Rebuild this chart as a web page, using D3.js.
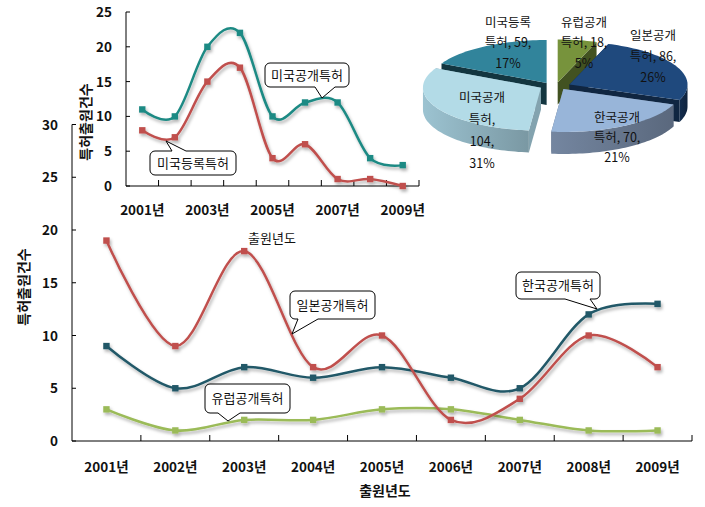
<!DOCTYPE html>
<html>
<head>
<meta charset="utf-8">
<script src="https://cdn.jsdelivr.net/npm/d3@7"></script>
<style>
  body { margin: 0; background: #fff; }
  text { font-family: "Noto Sans CJK KR", "Noto Sans", sans-serif; fill: #111; }
  .tick-label { font-size: 13.5px; font-weight: bold; }
  .axis-title { font-size: 14px; font-weight: bold; }
  .callout text { font-size: 13px; }
  .pie-label { font-size: 12.5px; }
</style>
</head>
<body>
<svg id="chart" width="705" height="507"></svg>
<script>
// ---- data ----
const years = ["2001년", "2002년", "2003년", "2004년", "2005년", "2006년", "2007년", "2008년", "2009년"];
const jpOpen = [19, 9, 18, 7, 10, 2, 4, 10, 7];     // 일본공개특허
const krOpen = [9, 5, 7, 6, 7, 6, 5, 12, 13];       // 한국공개특허
const euOpen = [3, 1, 2, 2, 3, 3, 2, 1, 1];         // 유럽공개특허
const usOpen = [11, 10, 20, 22, 10, 12, 12, 4, 3];  // 미국공개특허
const usGrant = [8, 7, 15, 17, 4, 6, 1, 1, 0];      // 미국등록특허
const mainTicks = [0, 5, 10, 15, 20, 25, 30];
const insetTicks = [0, 5, 10, 15, 20, 25];
const insetYearLabels = ["2001년", "2003년", "2005년", "2007년", "2009년"];
const pieNames = ["유럽공개특허", "일본공개특허", "한국공개특허", "미국공개특허", "미국등록특허"];
const pieValues = [18, 86, 70, 104, 59];
const piePercents = ["5%", "26%", "21%", "31%", "17%"];

const svg = d3.select("#chart");

const defs = svg.append("defs");
defs.append("filter").attr("id", "shadow")
    .attr("x", "-20%").attr("y", "-20%").attr("width", "140%").attr("height", "140%")
  .append("feDropShadow")
    .attr("dx", 1.5).attr("dy", 2.5).attr("stdDeviation", 1.5)
    .attr("flood-color", "#000").attr("flood-opacity", 0.3);

const smooth = d3.curveCatmullRom.alpha(0);

function drawSeries(g, x, y, values, colour) {
    const line = d3.line()
        .x((d, i) => x(years[i]) + x.bandwidth() / 2)
        .y(d => y(d))
        .curve(smooth);
    const s = g.append("g").attr("filter", "url(#shadow)");
    s.append("path")
        .attr("d", line(values))
        .attr("fill", "none")
        .attr("stroke", colour)
        .attr("stroke-width", 2.5);
    s.selectAll("rect")
        .data(values)
        .join("rect")
        .attr("x", (d, i) => x(years[i]) + x.bandwidth() / 2 - 3.2)
        .attr("y", d => y(d) - 3.2)
        .attr("width", 6.4)
        .attr("height", 6.4)
        .attr("fill", colour);
}

function drawAxes(g, x, y, ticks, labelYears, labelPad, labelY) {
    const [x0, x1] = x.range();
    const [yb, yt] = y.range();
    // y axis, ticks inside
    g.append("line").attr("x1", x0).attr("x2", x0).attr("y1", yt).attr("y2", yb)
        .attr("stroke", "#000");
    g.selectAll(".ytick").data(ticks).join("line")
        .attr("x1", x0).attr("x2", x0 + 4)
        .attr("y1", d => y(d)).attr("y2", d => y(d))
        .attr("stroke", "#000");
    g.selectAll(".ylab").data(ticks).join("text")
        .attr("class", "tick-label")
        .attr("x", x0 - labelPad).attr("y", d => y(d) + 5)
        .attr("text-anchor", "end")
        .text(d => d);
    // x axis, ticks between categories
    g.append("line").attr("x1", x0).attr("x2", x1).attr("y1", yb).attr("y2", yb)
        .attr("stroke", "#000");
    const bounds = years.slice(1).map(d => x(d)).concat([x1]);
    g.selectAll(".xtick").data(bounds).join("line")
        .attr("x1", d => d).attr("x2", d => d)
        .attr("y1", yb).attr("y2", yb - 6)
        .attr("stroke", "#000");
    g.selectAll(".xlab").data(labelYears).join("text")
        .attr("class", "tick-label")
        .attr("x", d => x(d) + x.bandwidth() / 2).attr("y", labelY)
        .attr("text-anchor", "middle")
        .text(d => d);
}

// ---- main chart ----
const main = svg.append("g");
const xMain = d3.scaleBand().domain(years).range([72, 692]);
const yMain = d3.scaleLinear().domain([0, 30]).range([441, 124.5]);
drawAxes(main, xMain, yMain, mainTicks, years, 14, 472);
drawSeries(main, xMain, yMain, euOpen, "#9bbb59");
drawSeries(main, xMain, yMain, krOpen, "#215968");
drawSeries(main, xMain, yMain, jpOpen, "#c0504d");

main.append("text").attr("class", "axis-title")
    .attr("x", 385).attr("y", 496).attr("text-anchor", "middle").text("출원년도");
main.append("text").attr("class", "axis-title")
    .attr("transform", "translate(29,287) rotate(-90)")
    .attr("text-anchor", "middle").text("특허출원건수");
main.append("text")
    .attr("x", 272).attr("y", 243).attr("text-anchor", "middle")
    .style("font-size", "13px").text("출원년도");

// ---- inset chart ----
const inset = svg.append("g");
const xIn = d3.scaleBand().domain(years).range([126, 419]);
const yIn = d3.scaleLinear().domain([0, 25]).range([186, 12]);
drawAxes(inset, xIn, yIn, insetTicks, insetYearLabels, 14, 215);
drawSeries(inset, xIn, yIn, usGrant, "#c0504d");
drawSeries(inset, xIn, yIn, usOpen, "#1f8a84");
inset.append("text").attr("class", "axis-title")
    .attr("transform", "translate(91,122) rotate(-90)")
    .attr("text-anchor", "middle").text("특허출원건수");

// ---- callouts ----
const callouts = [
    {text: "일본공개특허", box: [290, 291, 85, 28], base: [298, 318], tip: [292, 334], side: "bottom"},
    {text: "유럽공개특허", box: [205, 384, 85, 29], base: [218, 240], tip: [228, 421], side: "bottom"},
    {text: "한국공개특허", box: [516, 272, 84, 27], base: [565, 590], tip: [597, 309], side: "bottom"},
    {text: "미국공개특허", box: [265, 63, 84, 24], base: [315, 335], tip: [322, 98], side: "bottom"},
    {text: "미국등록특허", box: [150, 151, 86, 24], base: [172, 186], tip: [166, 141], side: "top"},
];

function calloutPath(c) {
    const [x, y, w, h] = c.box, r = 5;
    const p = d3.path();
    p.moveTo(x + r, y);
    if (c.side === "top") {
        p.lineTo(c.base[0], y); p.lineTo(c.tip[0], c.tip[1]); p.lineTo(c.base[1], y);
    }
    p.lineTo(x + w - r, y);
    p.arcTo(x + w, y, x + w, y + r, r);
    p.lineTo(x + w, y + h - r);
    p.arcTo(x + w, y + h, x + w - r, y + h, r);
    if (c.side === "bottom") {
        p.lineTo(c.base[1], y + h); p.lineTo(c.tip[0], c.tip[1]); p.lineTo(c.base[0], y + h);
    }
    p.lineTo(x + r, y + h);
    p.arcTo(x, y + h, x, y + h - r, r);
    p.lineTo(x, y + r);
    p.arcTo(x, y, x + r, y, r);
    p.closePath();
    return p.toString();
}

const cg = svg.append("g").attr("class", "callout");
callouts.forEach(c => {
    cg.append("path").attr("d", calloutPath(c))
        .attr("fill", "#fff").attr("stroke", "#000").attr("stroke-width", 1);
    cg.append("text")
        .attr("x", c.box[0] + c.box[2] / 2).attr("y", c.box[1] + c.box[3] / 2 + 4.5)
        .attr("text-anchor", "middle").text(c.text);
});

// ---- 3D exploded pie ----
const pieCfg = {cx: 555, cy: 86, rx: 118, ry: 43, depth: 22, explodeX: 16, explodeY: 3.5};
const pieTop = ["#77933c", "#1f497d", "#98b5d9", "#b3dbe7", "#31849b"];
const pieSide = ["#4f6228", "#132d4e", "#7486a0", "#9cc3d1", "#17404c"];
const slices = d3.pie().sort(null).value(d => d)(pieValues);

function proj(s, a, r, z) {
    const m = (s.startAngle + s.endAngle) / 2;
    const ox = pieCfg.explodeX * Math.sin(m);
    const oy = -pieCfg.explodeY * Math.cos(m);
    return [pieCfg.cx + ox + pieCfg.rx * r * Math.sin(a),
            pieCfg.cy + oy - pieCfg.ry * r * Math.cos(a) + z];
}
function arcPts(s, a0, a1, z) {
    const n = Math.max(2, Math.ceil((a1 - a0) / 0.03));
    return d3.range(n + 1).map(i => proj(s, a0 + (a1 - a0) * i / n, 1, z));
}

const pg = svg.append("g");
// back-to-front: slices whose middle points up are drawn first
const order = slices.map((s, i) => i).sort((a, b) =>
    Math.cos((slices[b].startAngle + slices[b].endAngle) / 2) -
    Math.cos((slices[a].startAngle + slices[a].endAngle) / 2));

const lineGen = d3.line();
order.forEach(i => {
    const s = slices[i], d = pieCfg.depth;
    const g = pg.append("g");
    // cut faces
    [s.startAngle, s.endAngle].forEach(a => {
        const pts = [proj(s, 0, 0, 0), proj(s, a, 1, 0), proj(s, a, 1, d), proj(s, 0, 0, d)];
        g.append("path").attr("d", lineGen(pts) + "Z")
            .attr("fill", d3.color(pieSide[i]).darker(0.5));
    });
    // outer wall (front half only), shaded darker to the right
    const b0 = Math.max(s.startAngle, Math.PI / 2), b1 = Math.min(s.endAngle, Math.PI * 1.5);
    if (b0 < b1) {
        const top = arcPts(s, b0, b1, 0);
        const pts = top.concat(arcPts(s, b0, b1, d).reverse());
        const xs = d3.extent(pts, p => p[0]);
        const gid = "wall" + i;
        const grad = defs.append("linearGradient").attr("id", gid)
            .attr("gradientUnits", "userSpaceOnUse")
            .attr("x1", xs[0]).attr("x2", xs[1]).attr("y1", 0).attr("y2", 0);
        grad.append("stop").attr("offset", 0).attr("stop-color", pieSide[i]);
        grad.append("stop").attr("offset", 1).attr("stop-color", d3.color(pieSide[i]).darker(0.7));
        g.append("path").attr("d", lineGen(pts) + "Z").attr("fill", `url(#${gid})`);
    }
    // top face
    const topPts = [proj(s, 0, 0, 0)].concat(arcPts(s, s.startAngle, s.endAngle, 0));
    g.append("path").attr("d", lineGen(topPts) + "Z").attr("fill", pieTop[i]);
});

// pie labels
const pieLabelLayout = [
    {x: 584, y: 22, step: 20.5, wrap: false},
    {x: 653, y: 35, step: 21, wrap: false},
    {x: 617, y: 117, step: 20, wrap: false},
    {x: 482, y: 97, step: 22, wrap: true},
    {x: 508, y: 22, step: 20.5, wrap: false},
];
pieNames.forEach((name, i) => {
    const L = pieLabelLayout[i];
    const lines = L.wrap
        ? [name.slice(0, 4), name.slice(4) + ",", pieValues[i] + ",", piePercents[i]]
        : [name.slice(0, 4), name.slice(4) + ", " + pieValues[i] + ",", piePercents[i]];
    const t = pg.append("text").attr("class", "pie-label").attr("text-anchor", "middle");
    lines.forEach((ln, k) => {
        t.append("tspan").attr("x", L.x).attr("y", L.y + k * L.step + 4.5).text(ln);
    });
});
</script>
</body>
</html>
